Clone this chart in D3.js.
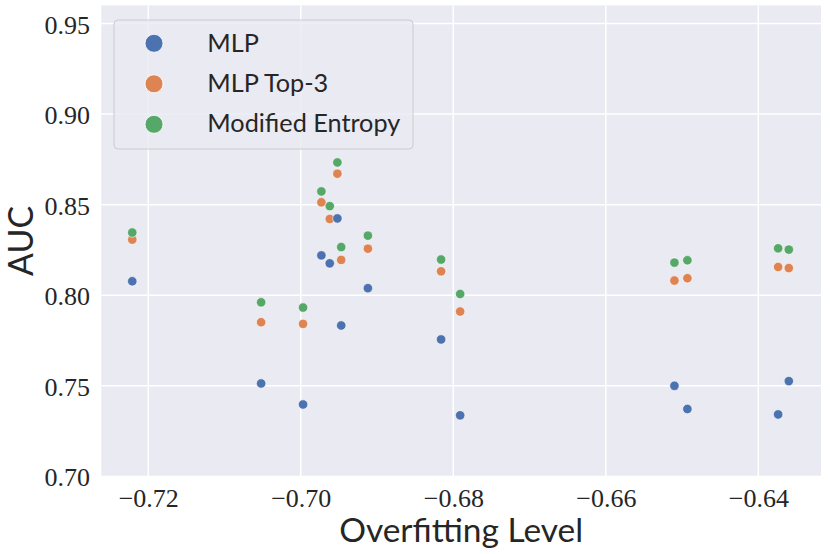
<!DOCTYPE html>
<html>
<head>
<meta charset="utf-8">
<script src="https://cdn.jsdelivr.net/npm/d3@7"></script>
<style>
html,body{margin:0;padding:0;background:#fff;}
</style>
</head>
<body>
<svg id="chart" width="830" height="554"></svg>
<script>
// ---- data ----
const overfitting = [-0.7221, -0.7052, -0.6997, -0.6973, -0.6962, -0.6952, -0.6947, -0.6912, -0.6816, -0.6791, -0.6510, -0.6493, -0.6374, -0.6360];
const seriesNames = ["MLP", "MLP Top-3", "Modified Entropy"];
const mlp      = [0.8077, 0.7513, 0.7397, 0.8220, 0.8176, 0.8424, 0.7833, 0.8039, 0.7756, 0.7337, 0.7500, 0.7372, 0.7342, 0.7526];
const mlpTop3  = [0.8307, 0.7851, 0.7842, 0.8513, 0.8421, 0.8671, 0.8195, 0.8257, 0.8132, 0.7910, 0.8081, 0.8094, 0.8156, 0.8150];
const entropy  = [0.8346, 0.7961, 0.7932, 0.8573, 0.8492, 0.8733, 0.8266, 0.8329, 0.8197, 0.8007, 0.8180, 0.8193, 0.8259, 0.8252];
const xTicks = [-0.72, -0.70, -0.68, -0.66, -0.64];
const yTicks = [0.70, 0.75, 0.80, 0.85, 0.90, 0.95];
const colors = ["#4C72B0", "#DD8452", "#55A868"];
</script>
<script>
// remove duplicated x index (overfitting list has 14 entries, values 14)
const seriesValues = [mlp, mlpTop3, entropy];
const svg = d3.select("#chart");
const L = 101.3, R = 821, T = 5.4, B = 476.4;
const x = d3.scaleLinear().domain([-0.72616, -0.63178]).range([L, R]);
const y = d3.scaleLinear().domain([0.70, 0.96]).range([B, T]);

const serif = "'Liberation Serif', 'Times New Roman', serif";
const sans = "Lato, 'Open Sans', 'DejaVu Sans', sans-serif";

svg.append("rect").attr("x", L).attr("y", T).attr("width", R - L).attr("height", B - T).attr("fill", "#EAEAF2");

// grid
const g = svg.append("g");
g.selectAll(".gx").data(xTicks).join("line")
  .attr("x1", d => x(d)).attr("x2", d => x(d)).attr("y1", T).attr("y2", B)
  .attr("stroke", "#fff").attr("stroke-width", 1.5);
g.selectAll(".gy").data(yTicks).join("line")
  .attr("y1", d => y(d)).attr("y2", d => y(d)).attr("x1", L).attr("x2", R)
  .attr("stroke", "#fff").attr("stroke-width", 1.5);

// axes via d3 axes (no lines, just labels)
const fmt = d3.format(".2f");
const xAxis = d3.axisBottom(x).tickValues(xTicks).tickSize(0).tickPadding(0)
  .tickFormat(d => fmt(d).replace("-", "\u2212"));
const xg = svg.append("g").attr("transform", `translate(0,${B})`).call(xAxis);
xg.select(".domain").remove();
xg.selectAll("text").attr("font-family", serif).attr("font-size", 26).attr("fill", "#262626")
  .attr("dy", null).attr("y", 30.5);

const yAxis = d3.axisLeft(y).tickValues(yTicks).tickSize(0).tickPadding(0).tickFormat(fmt);
const yg = svg.append("g").attr("transform", `translate(${L},0)`).call(yAxis);
yg.select(".domain").remove();
yg.selectAll("text").attr("font-family", serif).attr("font-size", 26).attr("fill", "#262626")
  .attr("dy", null).attr("y", 9.5).attr("x", -11.3);

function fit(sel, w) {
  const len = sel.node().getComputedTextLength();
  const fs = parseFloat(sel.attr("font-size"));
  sel.attr("font-size", fs * w / len);
}

// axis labels
const xl = svg.append("text").attr("x", (L + R) / 2).attr("y", 541.7).attr("text-anchor", "middle")
  .attr("font-family", sans).attr("font-size", 36).attr("fill", "#262626").text("Overfitting Level");
fit(xl, 244);
const yl = svg.append("text").attr("transform", `translate(33,${(T + B) / 2}) rotate(-90)`).attr("text-anchor", "middle")
  .attr("font-family", sans).attr("font-size", 36).attr("fill", "#262626").text("AUC");
fit(yl, 70);

// points, drawn row by row
const pts = [];
overfitting.forEach((xv, i) => {
  seriesValues.forEach((s, k) => pts.push({x: xv, y: s[i], k}));
});
svg.append("g").selectAll("circle").data(pts).join("circle")
  .attr("cx", d => x(d.x)).attr("cy", d => y(d.y)).attr("r", 4.7)
  .attr("fill", d => colors[d.k]).attr("stroke", "#fff").attr("stroke-width", 0.6);

// legend
const lg = svg.append("g");
lg.append("rect").attr("x", 114).attr("y", 20).attr("width", 299).attr("height", 129).attr("rx", 4)
  .attr("fill", "#EAEAF2").attr("fill-opacity", 0.8).attr("stroke", "#cccccc").attr("stroke-width", 1);
const items = lg.selectAll("g.item").data(seriesNames).join("g");
items.append("circle").attr("cx", 154).attr("cy", (d, i) => 43.3 + i * 40.5).attr("r", 9)
  .attr("fill", (d, i) => colors[i]).attr("stroke", "#fff").attr("stroke-width", 0.8);
const lt = items.append("text").attr("x", 207.3).attr("y", (d, i) => 51.7 + i * 40)
  .attr("font-family", sans).attr("font-size", 28).attr("fill", "#262626").text(d => d);
const ltLast = d3.select(lt.nodes()[2]);
const l0 = ltLast.node().getComputedTextLength();
const lfs = 28 * 193 / l0;
lt.attr("font-size", lfs);
</script>
</body>
</html>
